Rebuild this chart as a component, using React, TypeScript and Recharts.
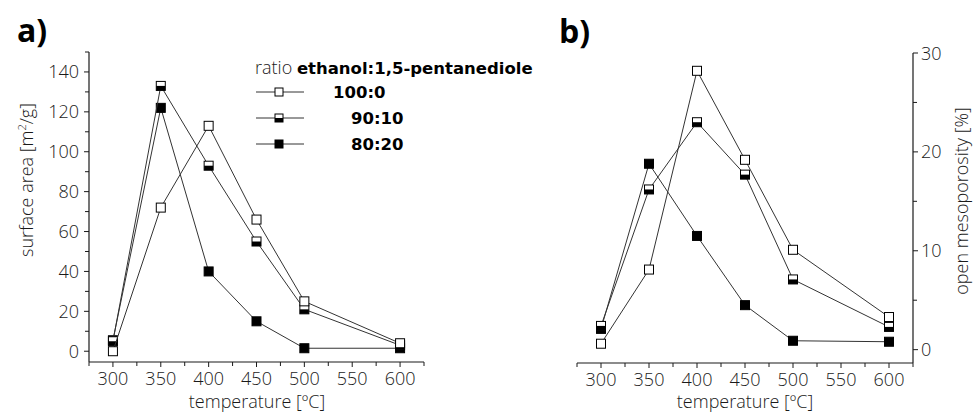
import React from 'react';
import { ScatterChart, Scatter, XAxis, YAxis } from 'recharts';

// calcination temperature [°C]
const temps = [300, 350, 400, 450, 500, 600];
const ratioLabels = ['100:0', '90:10', '80:20'];

// a) surface area [m2/g]
const area100 = [0, 72, 113, 66, 25, 4];
const area90 = [5, 133, 93, 55, 21, 3];
const area80 = [5.5, 122, 40, 15, 1.5, 1.5];

// b) open mesoporosity [%]
const meso100 = [0.6, 8.1, 28.2, 19.2, 10.1, 3.3];
const meso90 = [2.4, 16.2, 23, 17.7, 7.1, 2.3];
const meso80 = [2.1, 18.8, 11.5, 4.5, 0.9, 0.8];

const xTicks = [275, 300, 325, 350, 375, 400, 425, 450, 475, 500, 525, 550, 575, 600, 625];
const areaTicks = [0, 10, 20, 30, 40, 50, 60, 70, 80, 90, 100, 110, 120, 130, 140, 150];
const mesoTicks = [0, 5, 10, 15, 20, 25, 30];

const FONT = '"Open Sans", sans-serif';
const LEGEND_FONT = '"DejaVu Sans", sans-serif';
const INK = '#1a1a1a';

const toPoints = (ys: number[]) => temps.map((t, i) => ({ x: t, y: ys[i] }));

// marker: 'open' | 'half' | 'full'
const Square = ({ cx, cy, kind, size = 9 }: any) => {
  if (cx == null || cy == null) return null;
  const h = size / 2;
  return (
    <g>
      <rect x={cx - h} y={cy - h} width={size} height={size} fill={kind === 'full' ? '#000' : '#fff'} stroke="#000" strokeWidth={1} />
      {kind === 'half' && <rect x={cx - h} y={cy} width={size} height={h} fill="#000" />}
    </g>
  );
};

const XTick = ({ x, y, payload }: any) => {
  const major = payload.value % 50 === 0 && payload.value >= 300 && payload.value <= 600;
  return (
    <g>
      <line x1={x} x2={x} y1={y} y2={y + (major ? 5 : 4)} stroke={INK} />
      {major && (
        <text x={x} y={y + 23} textAnchor="middle" fontFamily={FONT} fontWeight={300} fontSize={18} fill={INK}>
          {payload.value}
        </text>
      )}
    </g>
  );
};

const LeftTick = ({ x, y, payload }: any) => {
  const major = payload.value % 20 === 0 && payload.value <= 140;
  return (
    <g>
      <line x1={x} x2={x - (major ? 5 : 4)} y1={y} y2={y} stroke={INK} />
      {major && (
        <text x={x - 10} y={y + 6.5} textAnchor="end" fontFamily={FONT} fontWeight={300} fontSize={18} fill={INK}>
          {payload.value}
        </text>
      )}
    </g>
  );
};

const RightTick = ({ x, y, payload }: any) => {
  const major = payload.value % 10 === 0;
  return (
    <g>
      <line x1={x} x2={x + (major ? 5 : 4)} y1={y} y2={y} stroke={INK} />
      {major && (
        <text x={x + 8} y={y + 6.5} textAnchor="start" fontFamily={FONT} fontWeight={300} fontSize={18} fill={INK}>
          {payload.value}
        </text>
      )}
    </g>
  );
};

const lineStyle = { stroke: '#333', strokeWidth: 1 };

const series = (d100: number[], d90: number[], d80: number[]) => [
  { name: ratioLabels[2], data: toPoints(d80), kind: 'full' },
  { name: ratioLabels[1], data: toPoints(d90), kind: 'half' },
  { name: ratioLabels[0], data: toPoints(d100), kind: 'open' },
];

const legendKinds = ['open', 'half', 'full'];
const legendTextX = [333, 351, 351];
const legendRowsY = [92, 118, 144];

export default function App() {
  const left = series(area100, area90, area80);
  const right = series(meso100, meso90, meso80);

  return (
    <div style={{ position: 'absolute', left: 0, top: 0, width: 975, height: 413, background: '#fff' }}>
      <div style={{ position: 'absolute', left: 0, top: 0 }}>
        <ScatterChart width={490} height={413} margin={{ top: 52, right: 66, bottom: 21, left: 29 }}>
          <XAxis
            type="number"
            dataKey="x"
            domain={[275, 625]}
            ticks={xTicks}
            interval={0}
            tick={<XTick />}
            tickLine={false}
            tickSize={0}
            tickMargin={0}
            height={30}
            axisLine={{ stroke: INK, strokeWidth: 1.2 }}
          />
          <YAxis
            type="number"
            dataKey="y"
            domain={[-5.4, 150]}
            ticks={areaTicks}
            interval={0}
            tick={<LeftTick />}
            tickLine={false}
            tickSize={0}
            tickMargin={0}
            width={60}
            axisLine={{ stroke: INK, strokeWidth: 1.2 }}
          />
          {left.map((s) => (
            <Scatter
              key={s.name}
              name={s.name}
              data={s.data}
              line={lineStyle}
              shape={(p: any) => <Square cx={p.cx} cy={p.cy} kind={s.kind} />}
              isAnimationActive={false}
            />
          ))}
        </ScatterChart>
      </div>

      <div style={{ position: 'absolute', left: 490, top: 0 }}>
        <ScatterChart width={485} height={413} margin={{ top: 53, right: 0, bottom: 20, left: 87 }}>
          <XAxis
            type="number"
            dataKey="x"
            domain={[275, 625]}
            ticks={xTicks}
            interval={0}
            tick={<XTick />}
            tickLine={false}
            tickSize={0}
            tickMargin={0}
            height={30}
            axisLine={{ stroke: INK, strokeWidth: 1.2 }}
          />
          <YAxis
            type="number"
            dataKey="y"
            orientation="right"
            domain={[-1.35, 30]}
            ticks={mesoTicks}
            interval={0}
            tick={<RightTick />}
            tickLine={false}
            tickSize={0}
            tickMargin={0}
            width={62}
            axisLine={{ stroke: INK, strokeWidth: 1.2 }}
          />
          {right.map((s) => (
            <Scatter
              key={s.name}
              name={s.name}
              data={s.data}
              line={lineStyle}
              shape={(p: any) => <Square cx={p.cx} cy={p.cy} kind={s.kind} />}
              isAnimationActive={false}
            />
          ))}
        </ScatterChart>
      </div>

      {/* panel letters, axis titles and legend */}
      <svg width={975} height={413} style={{ position: 'absolute', left: 0, top: 0, pointerEvents: 'none' }}>
        <g fontFamily={FONT} fill="#000">
          <text x={17} y={42} fontSize={32} fontWeight="bold">a)</text>
          <text x={559} y={43} fontSize={32} fontWeight="bold">b)</text>

          <text transform="translate(33,180) rotate(-90)" textAnchor="middle" fontSize={18} fontWeight={300} fill={INK}>
            surface area [m<tspan dy={-7} fontSize={11}>2</tspan><tspan dy={7}>/g]</tspan>
          </text>
          <text x={257} y={407.5} textAnchor="middle" fontSize={18} fontWeight={300} fill={INK}>temperature [ºC]</text>
          <text x={745} y={408} textAnchor="middle" fontSize={18} fontWeight={300} fill={INK}>temperature [ºC]</text>
          <text transform="translate(968,201) rotate(-90)" textAnchor="middle" fontSize={18} fontWeight={300} fill={INK}>
            open mesoporosity [%]
          </text>

          <text x={255} y={74} fontSize={18} fontWeight={300} fill={INK}>
            ratio{' '}
            <tspan fontFamily={LEGEND_FONT} fontSize={16.5} fontWeight="bold" fill="#000">ethanol:1,5-pentanediole</tspan>
          </text>
          {ratioLabels.map((r, i) => (
            <g key={r}>
              <line x1={256} x2={304} y1={legendRowsY[i]} y2={legendRowsY[i]} stroke="#333" />
              <Square cx={279} cy={legendRowsY[i]} kind={legendKinds[i]} size={8} />
              <text x={legendTextX[i]} y={legendRowsY[i] + 6} fontFamily={LEGEND_FONT} fontSize={16.5} fontWeight="bold">
                {r}
              </text>
            </g>
          ))}
        </g>
      </svg>
    </div>
  );
}
